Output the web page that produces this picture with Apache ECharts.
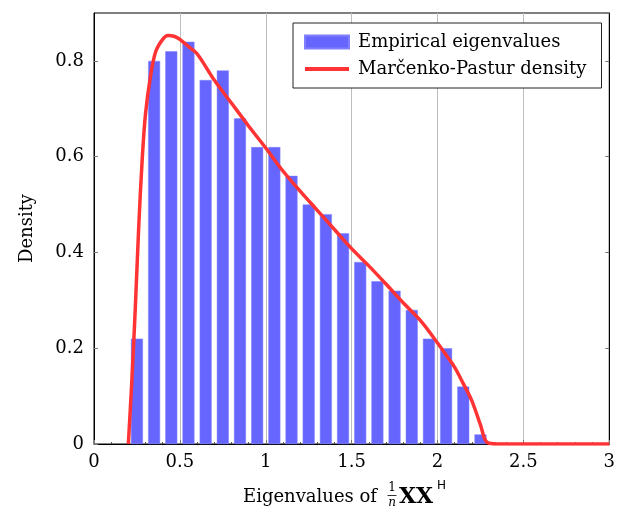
<!DOCTYPE html>
<html>
<head>
<meta charset="utf-8">
<script src="https://cdn.jsdelivr.net/npm/echarts@6/dist/echarts.min.js"></script>
<style>
  html, body { margin: 0; padding: 0; background: #fff; }
  #chart { width: 618px; height: 513px; }
</style>
</head>
<body>
<div id="chart"></div>
<script>
// Histogram of empirical eigenvalues (bin centres and densities)
const binCenters = [0.25, 0.35, 0.45, 0.55, 0.65, 0.75, 0.85, 0.95, 1.05, 1.15, 1.25,
                    1.35, 1.45, 1.55, 1.65, 1.75, 1.85, 1.95, 2.05, 2.15, 2.25];
const binDensity = [0.22, 0.80, 0.82, 0.84, 0.76, 0.78, 0.68, 0.62, 0.62, 0.56, 0.50,
                    0.48, 0.44, 0.38, 0.34, 0.32, 0.28, 0.22, 0.20, 0.12, 0.02];

// Marčenko-Pastur density curve
const mpX = [0.20, 0.22, 0.24, 0.26, 0.28, 0.30, 0.33, 0.36, 0.40, 0.43, 0.47, 0.50,
             0.55, 0.60, 0.70, 0.80, 0.90, 1.00, 1.10, 1.20, 1.30, 1.40, 1.50, 1.60,
             1.70, 1.80, 1.90, 2.00, 2.05, 2.10, 2.15, 2.20, 2.25, 2.29, 2.35, 2.50,
             2.75, 3.00];
const mpY = [0.00, 0.13, 0.28, 0.45, 0.59, 0.69, 0.77, 0.82, 0.845, 0.853, 0.851, 0.845,
             0.83, 0.815, 0.76, 0.712, 0.664, 0.618, 0.57, 0.528, 0.488, 0.448, 0.408, 0.372,
             0.334, 0.295, 0.258, 0.211, 0.186, 0.16, 0.126, 0.09, 0.04, 0.003, 0.0, 0.0,
             0.0, 0.0];

// Axis ticks
const xTicks = { min: 0, max: 3, interval: 0.5 };
const yTicks = { min: 0, max: 0.9, interval: 0.2 };

const FONT = 'DejaVu Serif';
const chart = echarts.init(document.getElementById('chart'), null, { renderer: 'canvas' });

const barData = binCenters.map((x, i) => [x, binDensity[i]]);
const lineData = mpX.map((x, i) => [x, mpY[i]]);

const option = {
  animation: false,
  backgroundColor: '#fff',
  grid: {
    left: 94, right: 6, top: 13, bottom: 69,
    show: true, borderColor: '#000', borderWidth: 1, backgroundColor: 'transparent'
  },
  legend: {
    orient: 'vertical',
    left: 293, top: 23,
    padding: [9, 15, 9, 11],
    itemWidth: 44, itemHeight: 13, itemGap: 7,
    symbolKeepAspect: true,
    backgroundColor: '#fff',
    borderColor: '#222', borderWidth: 1, borderRadius: 0,
    textStyle: { fontFamily: FONT, fontSize: 18, color: '#000', lineHeight: 20, padding: [0, 0, 0, 4] },
    data: [
      { name: 'Empirical eigenvalues', icon: 'rect' },
      { name: 'Marčenko-Pastur density', icon: 'path://M0,0 L44,0 L44,4 L0,4 Z' }
    ]
  },
  xAxis: [{
    type: 'value', min: xTicks.min, max: xTicks.max, interval: xTicks.interval,
    axisLine: { show: true, onZero: false, lineStyle: { color: '#000', width: 1 } },
    axisTick: { show: true, inside: true, length: 4, lineStyle: { color: '#777' } },
    minorTick: { show: true, splitNumber: 5, length: 2, lineStyle: { color: '#555' } },
    splitLine: { show: true, lineStyle: { color: '#bdbdbd', width: 1 } },
    axisLabel: { fontFamily: FONT, fontSize: 18, color: '#000', margin: 9 }
  }],
  yAxis: [{
    type: 'value', min: yTicks.min, max: yTicks.max, interval: yTicks.interval,
    name: 'Density', nameLocation: 'middle', nameGap: 58, nameRotate: 90,
    nameTextStyle: { fontFamily: FONT, fontSize: 18, color: '#000' },
    axisLine: { show: true, lineStyle: { color: '#000', width: 1 } },
    axisTick: { show: true, inside: true, length: 4, lineStyle: { color: '#777' } },
    splitLine: { show: false },
    axisLabel: { fontFamily: FONT, fontSize: 18, color: '#000', margin: 10, showMaxLabel: false }
  }, {
    type: 'value', position: 'right', min: yTicks.min, max: yTicks.max, interval: yTicks.interval,
    axisLine: { show: true, lineStyle: { color: '#000', width: 1 } },
    axisTick: { show: true, inside: true, length: 4, lineStyle: { color: '#777' } },
    splitLine: { show: false },
    axisLabel: { show: false }
  }],
  series: [{
    name: 'Empirical eigenvalues',
    type: 'bar',
    data: barData,
    barWidth: 12,
    itemStyle: { color: '#6666ff', borderColor: '#8080ff', borderWidth: 0.5 },
    z: 2
  }, {
    name: 'Marčenko-Pastur density',
    type: 'line',
    data: lineData,
    symbol: 'none',
    smooth: 0.35,
    lineStyle: { color: '#ff3333', width: 3.5 },
    itemStyle: { color: '#ff3333' },
    z: 3
  }],
  graphic: [
    { type: 'text', left: 243, top: 488, style: { text: 'Eigenvalues of', font: '18px "DejaVu Serif"', fill: '#000' } },
    { type: 'text', x: 392, y: 488, style: { text: '1', font: '12px "DejaVu Serif"', fill: '#000', align: 'center', verticalAlign: 'middle' } },
    { type: 'line', shape: { x1: 387.5, y1: 495.5, x2: 396.5, y2: 495.5 }, style: { stroke: '#000', lineWidth: 0.8 } },
    { type: 'text', x: 392, y: 503, style: { text: 'n', font: 'italic 12px "DejaVu Serif"', fill: '#000', align: 'center', verticalAlign: 'middle' } },
    { type: 'text', x: 399, y: 497, style: { text: 'XX', font: 'bold 22px "DejaVu Serif"', fill: '#000', verticalAlign: 'middle' } },
    { type: 'text', x: 437, y: 486, style: { text: 'H', font: '12px "DejaVu Sans"', fill: '#000', verticalAlign: 'middle' } }
  ]
};
chart.setOption(option);
</script>
</body>
</html>
